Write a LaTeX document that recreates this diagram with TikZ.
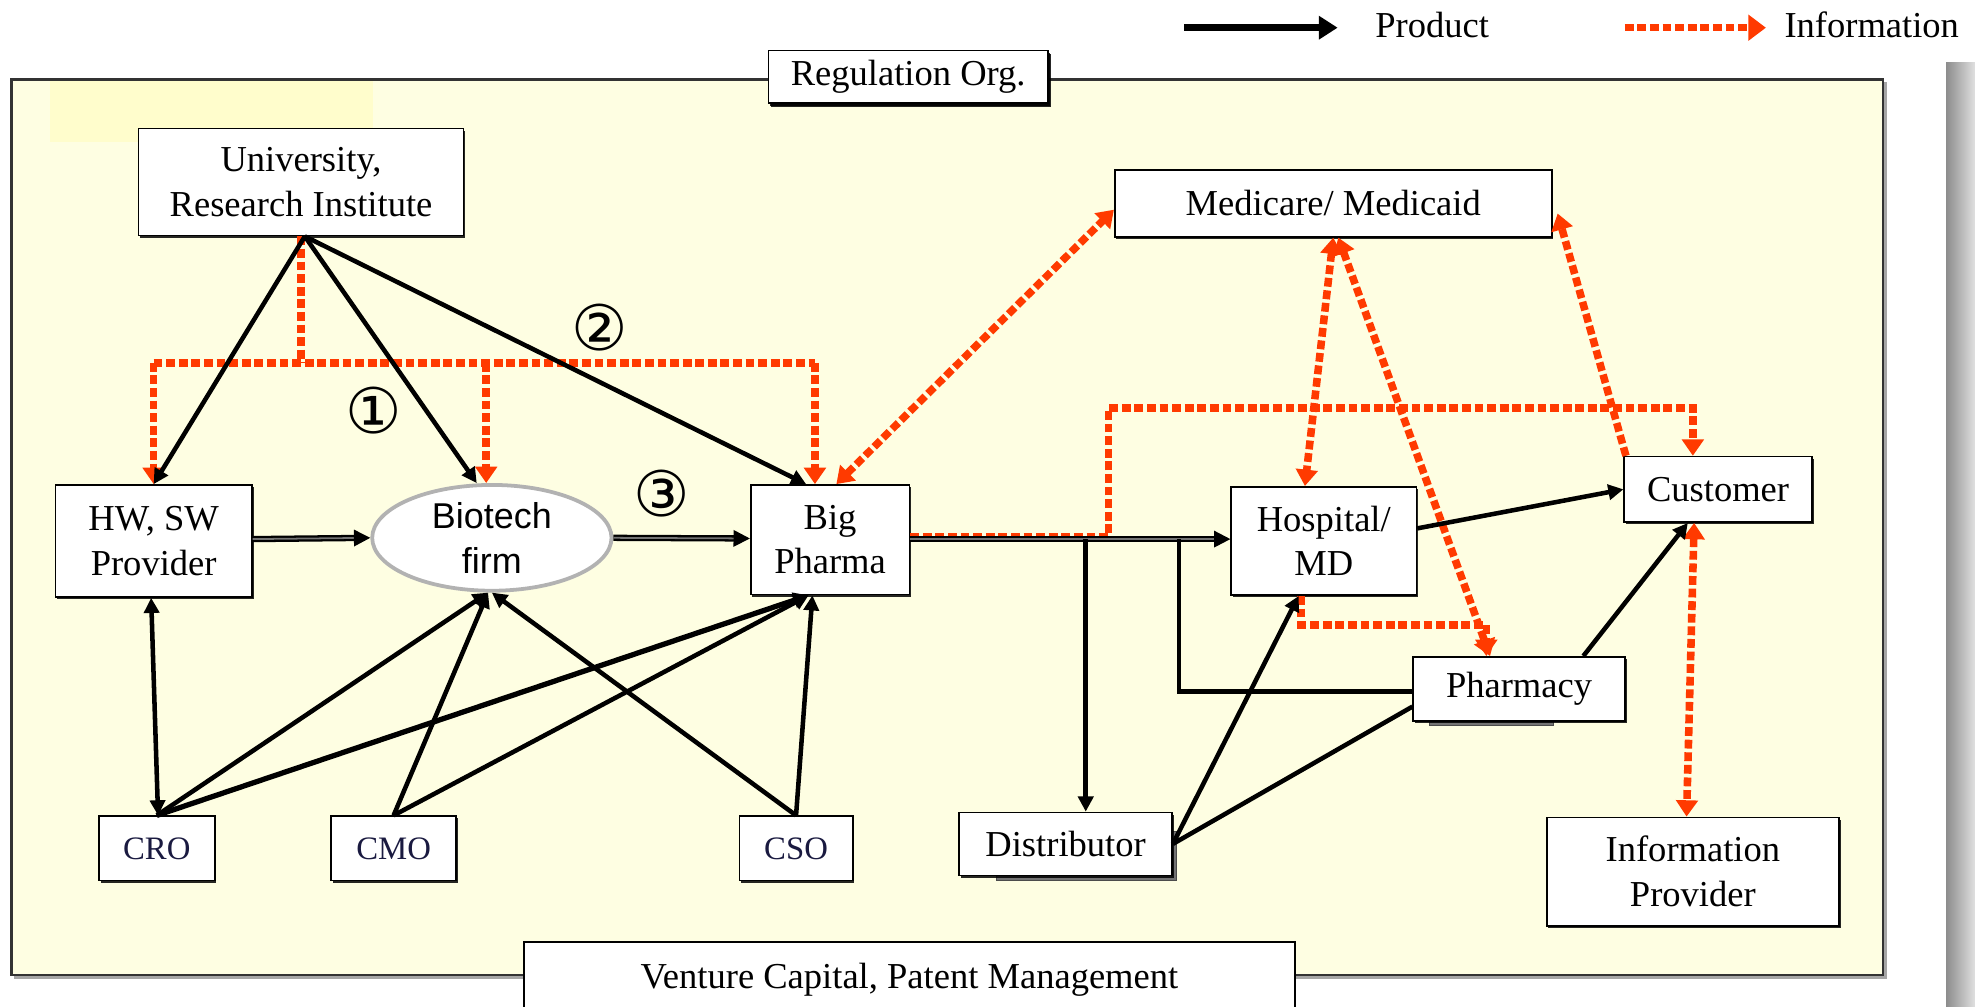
\documentclass[tikz,border=0pt]{standalone}
\usepackage{fontspec}
\setmainfont{Liberation Serif}
\newfontfamily\arialfont{Liberation Sans}
\newfontfamily\dejavu{DejaVu Sans}
\usetikzlibrary{arrows.meta,calc,shadows,shapes.geometric}
\definecolor{bgyel}{HTML}{FEFEE2}
\definecolor{hiyel}{HTML}{FFFDCC}
\definecolor{infored}{HTML}{FF3A00}
\definecolor{cxtext}{HTML}{1A1A40}
\tikzset{
  box/.style={draw=black, line width=1.3pt, fill=white, inner sep=0pt, align=center,
    font=\fontsize{29}{35.5}\selectfont,
    drop shadow={shadow xshift=1.3pt, shadow yshift=-1.8pt, fill=black, opacity=0.85}},
  smallbox/.style={box, font=\fontsize{26}{30}\selectfont, text=cxtext},
  biobox/.style={ellipse, draw=black!30, line width=3pt, fill=white, inner sep=0pt, align=center,
    font=\arialfont\fontsize{28.5}{36}\selectfont},
  prodl/.style={draw=black, line width=3.6pt},
  prodarr/.style={prodl, -{Triangle[length=12pt,width=12pt]}},
  prodboth/.style={prodl, {Triangle[length=12pt,width=12pt]}-{Triangle[length=12pt,width=12pt]}},
  dprod/.style={draw=black, double=black!55, double distance=1.4pt, line width=1.8pt,
    -{Triangle[length=13pt,width=13pt]}},
  infol/.style={draw=infored, line width=6pt, dash pattern=on 7pt off 3pt},
  infoarr/.style={infol, -{Triangle[length=13pt,width=17pt]}},
  infoboth/.style={infol, {Triangle[length=13pt,width=17pt]}-{Triangle[length=13pt,width=17pt]}},
  circnum/.style={inner sep=0pt, font=\dejavu\fontsize{50}{50}\selectfont},
  legtext/.style={inner sep=0pt, font=\fontsize{29}{35}\selectfont}
}
\begin{document}
\begin{tikzpicture}[x=1pt,y=-1pt]
\useasboundingbox (0,0) rectangle (1568,799);
\fill[white] (0,0) rectangle (1568,799);
% outer frame
\fill[black!35] (11,65) rectangle (1498,777);
\fill[bgyel] (9,63) rectangle (1495,774);
\fill[hiyel] (40,64) rectangle (296,113);
\draw[black!80, line width=2pt] (9,63) rectangle (1495,774);
% gray side bar
\shade[left color=black!45, right color=black!12] (1545,50) rectangle (1568,799);

% legend
\coordinate (lpa) at (940,22);
\coordinate (lpb) at (1062,22);
\coordinate (lia) at (1290,22);
\coordinate (lib) at (1402,22);
\draw[draw=black, line width=6pt, -{Triangle[length=15pt,width=18pt]}] (lpa) -- (lpb);
\node[legtext] (lprod) at (1137,20) {Product};
\draw[infol, -{Triangle[length=14pt,width=20pt]}] (lia) -- (lib);
\node[legtext] (linfo) at (1486,20) {Information};

% shadows of distributor and pharmacy
\draw[fill=black!55, draw=black!70, line width=0.8pt] (791,660) rectangle (934,699);
\draw[fill=black!55, draw=black!70, line width=0.8pt] (1135,560) rectangle (1233,576);

% nodes
\node[box, minimum width=222pt, minimum height=42pt,
  drop shadow={shadow xshift=2.5pt, shadow yshift=-3pt, fill=black, opacity=0.85}] (reg) at (721,61) {Regulation Org.};
\node[box, minimum width=258pt, minimum height=85pt] (univ) at (239,144.5) {University,\\Research Institute};
\node[box, minimum width=156pt, minimum height=89pt] (hw) at (122,429.5) {HW, SW\\Provider};
\node[biobox, minimum width=190pt, minimum height=84pt] (bio) at (390.5,427) {Biotech\\firm};
\node[box, minimum width=126pt, minimum height=87pt] (bp) at (659,428.5) {Big\\Pharma};
\node[box, minimum width=347pt, minimum height=53pt] (med) at (1058.5,161.5) {Medicare/ Medicaid};
\node[box, minimum width=147pt, minimum height=86pt] (hosp) at (1051,429.5) {Hospital/\\MD};
\node[box, minimum width=149pt, minimum height=52pt] (cust) at (1364,388.5) {Customer};
\node[box, minimum width=168pt, minimum height=51pt] (pharm) at (1206,547) {Pharmacy};
\node[box, minimum width=169pt, minimum height=50pt] (dist) at (846,670) {Distributor};
\node[box, minimum width=232pt, minimum height=86pt] (info) at (1344,692) {Information\\Provider};
\node[smallbox, minimum width=92pt, minimum height=51pt] (cro) at (124.5,673.5) {CRO};
\node[smallbox, minimum width=99pt, minimum height=51pt] (cmo) at (312.5,673.5) {CMO};
\node[smallbox, minimum width=90pt, minimum height=51pt] (cso) at (632,673.5) {CSO};
\node[box, minimum width=612pt, minimum height=60pt] (vc) at (722,778) {Venture Capital, Patent Management};

% circled numbers
\node[circnum] (n1) at (297,326) {①};
\node[circnum] (n2) at (476,260) {②};
\node[circnum] (n3) at (525,392) {③};

% ---------- information (red) ----------
\coordinate (tU) at (239,288);
\coordinate (tL) at (122,288);
\coordinate (tM) at (386,288);
\coordinate (tR) at (647,288);
\draw[infol] (univ.south) -- (tU);
\draw[infol] (tL) -- (tR);
\draw[infoarr] (tL) -- (hw.north);
\draw[infoarr] (tM) -- (tM |- bio.north);
\draw[infoarr] (tR) -- (tR |- bp.north);

\draw[infoboth] ($(bp.north)+(5,0)$) -- ($(med.west)+(0,5)$);

\coordinate (rA) at (880,426);
\coordinate (rB) at (880,324);
\coordinate (rC) at (1344,324);
\draw[infoarr] ($(bp.east)+(0,-2.5)$) -- (rA) -- (rB) -- (rC) -- (rC |- cust.north);

\draw[infoboth] ($(med.south)+(0,0)$) -- ($(hosp.north)+(-15,0)$);
\draw[infoboth] ($(med.south)+(4,0)$) -- ($(pharm.north)+(-23,0)$);
\draw[infoarr] ($(cust.north west)+(2,0)$) -- ($(med.east)+(4,8)$);

\coordinate (hp1) at (1033,496);
\coordinate (hp2) at (1180,496);
\draw[infoarr] ($(hosp.south)+(-18,0)$) -- (hp1) -- (hp2) -- (hp2 |- pharm.north);

\draw[infoboth] ($(cust.south)+(-19,0)$) -- ($(info.north)+(-5,0)$);

% ---------- product (black) ----------
\draw[prodarr] ($(univ.south)+(3,0)$) -- (hw.north);
\draw[prodarr] ($(univ.south)+(3,0)$) -- ($(bio.north)+(-12,0)$);
\draw[prodarr] ($(univ.south)+(3,0)$) -- ($(bp.north)+(-19,0)$);

\draw[dprod] ($(hw.east)+(0,-1.5)$) -- (bio.west);
\draw[dprod] (bio.east) -- ($(bp.west)+(0,-1)$);
\draw[dprod] ($(bp.east)+(0,-0.5)$) -- ($(hosp.west)+(0,-1.5)$);

\coordinate (j1) at (862,428);
\draw[prodarr] (j1) -- (j1 |- dist.north);
\coordinate (j2) at (936,428);
\coordinate (j3) at (936,549);
\draw[prodl] (j2) -- (j3) -- (j3 -| pharm.west);

\draw[prodarr] ($(hosp.east)+(0,-10)$) -- (cust.west);
\draw[prodarr] ($(pharm.north)+(51,0)$) -- ($(cust.south)+(-24,0)$);
\draw[prodarr] (dist.east) -- ($(hosp.south)+(-20,0)$);
\draw[prodl] (dist.east) -- ($(pharm.west)+(0,14)$);

\draw[prodboth] ($(hw.south)+(-2,0)$) -- ($(cro.north)+(1,0)$);
\draw[prodarr] (cro.north) -- ($(bio.south)+(-3,0)$);
\draw[prodarr, line width=4.2pt] (cro.north) -- ($(bp.south)+(-17,0)$);
\draw[prodarr] (cmo.north) -- ($(bio.south)+(-3,0)$);
\draw[prodarr] (cmo.north) -- ($(bp.south)+(-17,0)$);
\draw[prodarr] (cso.north) -- (bio.south);
\draw[prodarr] (cso.north) -- ($(bp.south)+(-14,0)$);
\end{tikzpicture}
\end{document}
